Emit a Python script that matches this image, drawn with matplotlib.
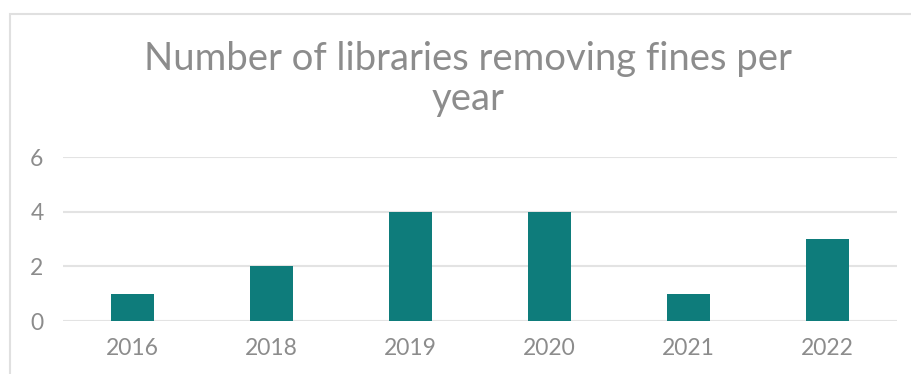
import matplotlib.pyplot as plt
from matplotlib.patches import Rectangle

years = ['2016', '2018', '2019', '2020', '2021', '2022']
libraries = [1, 2, 4, 4, 1, 3]
yticks = [0, 2, 4, 6]

bar_color = '#0e7c7b'
text_color = '#8c8c8c'
grid_color = '#e3e3e3'

plt.rcParams['font.family'] = ['Lato', 'DejaVu Sans']

fig = plt.figure(figsize=(9.12, 3.74), dpi=100)

# light frame round the chart
fig.patches.append(Rectangle((10 / 912, -0.1), 1.0, 1 - 14 / 374 + 0.1,
                             transform=fig.transFigure, fill=False,
                             edgecolor='#e0e0e0', linewidth=1.5))

ax = fig.add_axes([63 / 912, 1 - 321 / 374, 834 / 912, 164 / 374])
x = range(len(years))
ax.bar(x, libraries, width=0.315, color=bar_color, zorder=3)

ax.set_xlim(-0.5, len(years) - 0.5)
ax.set_ylim(0, 6)
ax.set_yticks(yticks)
ax.set_xticks(list(x))
ax.set_xticklabels(years)
ax.grid(axis='y', color=grid_color, linewidth=1.5, zorder=0)
for s in ax.spines.values():
    s.set_visible(False)
ax.tick_params(length=0, labelsize=16.5, colors=text_color)
ax.tick_params(axis='y', pad=14)
ax.tick_params(axis='x', pad=12)

fig.text(0.513, 1 - 79 / 374, 'Number of libraries removing fines per\nyear',
         ha='center', va='center', fontsize=27.5, color=text_color,
         linespacing=1.15)

fig.savefig('out.png', dpi=100)
